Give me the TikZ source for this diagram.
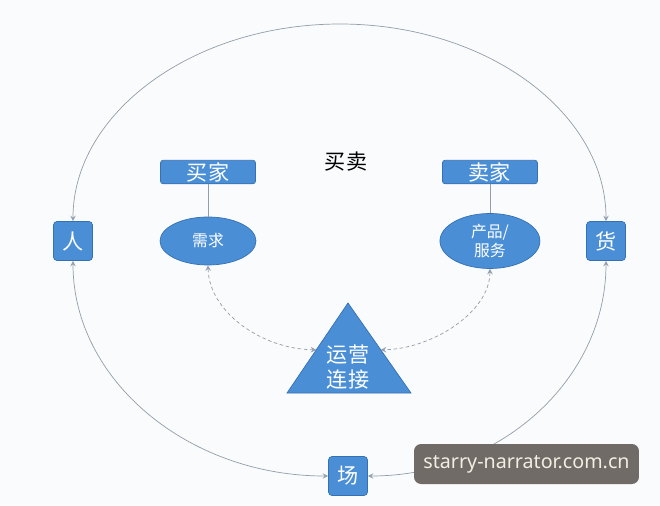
\documentclass[tikz,border=0pt]{standalone}
\usepackage{fontspec}
\setmainfont{Noto Sans}
\newfontfamily\cjk{Noto Sans CJK SC}
\usetikzlibrary{shapes.geometric, arrows}
\usetikzlibrary{calc}
\definecolor{boxblue}{RGB}{74,143,214}
\definecolor{boxedge}{RGB}{52,112,180}
\definecolor{linegray}{RGB}{146,158,170}
\definecolor{bggray}{RGB}{250,251,252}
\definecolor{markgray}{RGB}{112,107,102}
\definecolor{marktext}{RGB}{242,238,226}
\tikzstyle{box} = [rectangle, rounded corners=2pt, minimum width=0.78cm, minimum height=0.78cm, inner sep=0pt, text centered, draw=boxedge, fill=boxblue, text=white, font=\cjk\large]
\tikzstyle{rolebox} = [rectangle, rounded corners=1.5pt, minimum width=1.9cm, minimum height=0.47cm, inner sep=0pt, text centered, draw=boxedge, fill=boxblue, text=white, font=\cjk\large]
\tikzstyle{need} = [ellipse, minimum width=1.92cm, minimum height=0.96cm, inner sep=0pt, text centered, draw=boxedge, fill=boxblue, text=white, font=\cjk\small]
\tikzstyle{arrow} = [<->,>=stealth, draw=linegray, thin]
\tikzstyle{dasharrow} = [<->,>=stealth, draw=linegray, dash pattern=on 2pt off 1.5pt, thin]

\begin{document}
\begin{tikzpicture}[x=0.02cm, y=-0.02cm, node distance=1.38cm]
	\fill[bggray] (0,0) rectangle (660,505);
	\useasboundingbox (0,0) rectangle (660,505);
	\node (ren) [box] at (73,241) {人};
	\node (huo) [box] at (606,241) {货};
	\node (chang) [box] at (348,476) {场};
	\node (mm) at (346,162) {\cjk\large 买卖};
	\node (mj) [rolebox] at (208,172) {买家};
	\node (mjj) [rolebox, right of=mj, xshift=4.26cm] {卖家};
	\node (xq) [need, below of=mj] {需求};
	\node (cp) [need, below of=mjj, minimum width=2cm, minimum height=1.1cm, align=center] {产品/\\服务};
	\draw [linegray] (mj) -- (xq);
	\draw [linegray] (mjj) -- (cp);
	% triangle
	\coordinate (tA) at (348,303);
	\coordinate (tL) at (287,393);
	\coordinate (tR) at (411,393);
	\coordinate (tLm) at ($(tA)!0.52!(tL)$);
	\coordinate (tRm) at ($(tA)!0.52!(tR)$);
	\filldraw [fill=boxblue, draw=boxedge] (tA) -- (tL) -- (tR) -- cycle;
	\node (yy) at (348,367) [text=white, font=\cjk\large, align=center] {运营\\连接};
	\draw [dasharrow] (xq.south) .. controls (209,312) and (262,349) .. (tLm);
	\draw [dasharrow] (cp.south) .. controls (490,312) and (432,349) .. (tRm);
	% outer ring
	\coordinate (top) at (340,24);
	\draw [arrow] (ren.north) .. controls (73,113) and (193,24) .. (top) .. controls (487,24) and (606,113) .. (huo.north);
	\draw [arrow] (ren.south) .. controls (73,380) and (188,476) .. (chang.west);
	\draw [arrow] (huo.south) .. controls (606,380) and (499,476) .. (chang.east);
	\node (wm) [rectangle, rounded corners=4pt, fill=markgray, minimum width=4.5cm, minimum height=0.8cm, text=marktext, font=\fontsize{11.2}{13}\selectfont] at (526.5,464) {starry-narrator.com.cn};
\end{tikzpicture}
\end{document}
